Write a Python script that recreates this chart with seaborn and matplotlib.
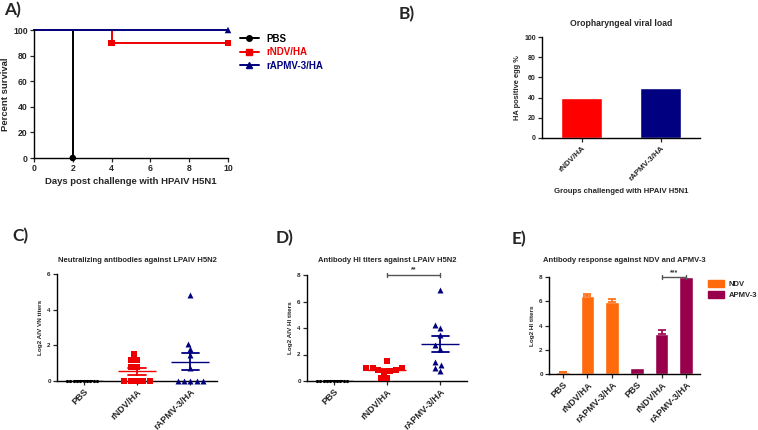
import numpy as np
import pandas as pd
import seaborn as sns
import matplotlib.pyplot as plt
from matplotlib.lines import Line2D
from matplotlib.patches import Patch

# A) survival after HPAIV H5N1 challenge
GROUPS = ["PBS", "rNDV/HA", "rAPMV-3/HA"]
PBS_DAYS = [0, 2]
PBS_SURV = [100, 0]
RNDV_DAYS = [0, 4, 10]
RNDV_SURV = [100, 90, 90]
RAPMV_DAYS = [0, 10]
RAPMV_SURV = [100, 100]
# symbols drawn on the curves
PBS_MARK_DAYS = [2]
PBS_MARK_SURV = [0]
RNDV_MARK_DAYS = [4, 10]
RNDV_MARK_SURV = [90, 90]
RAPMV_MARK_DAYS = [10]
RAPMV_MARK_SURV = [100]

# B) oropharyngeal viral load
VIRAL_GROUPS = ["rNDV/HA", "rAPMV-3/HA"]
VIRAL_LOAD = [40, 50]

# C) VN titers (log2)
VN_PBS = [0, 0, 0, 0, 0, 0, 0, 0, 0, 0]
VN_RNDV = [0, 0, 0, 0, 0, 0.8, 0.8, 1.2, 1.2, 1.5]
VN_RAPMV = [0, 0, 0, 0, 0, 0.75, 1.45, 1.8, 2.1, 4.8]

# D) HI titers against LPAIV H5N2 (log2)
HI_PBS = [0, 0, 0, 0, 0, 0, 0, 0, 0, 0]
HI_RNDV = [0.25, 0.25, 0.65, 0.75, 0.85, 0.85, 1.0, 1.0, 1.0, 1.5]
HI_RAPMV = [0.75, 1.0, 1.2, 1.45, 2.45, 2.7, 3.45, 4.0, 4.25, 6.9]

# E) HI titers against NDV and APMV-3 (mean, SEM)
ANTIGENS = ["NDV", "APMV-3"]
NDV_HI = [0.15, 6.4, 5.9]
NDV_SEM = [0.05, 0.2, 0.3]
APMV_HI = [0.5, 3.3, 8.0]
APMV_SEM = [0.0, 0.3, 0.0]

COLORS = ["#000000", "#EE0000", "#000080"]
MARKERS = ["o", "s", "^"]
E_COLORS = ["#FF6A0D", "#99004C"]


def style_axis(ax, tick_size):
    sns.despine(ax=ax)
    for side in ["left", "bottom"]:
        ax.spines[side].set_linewidth(1.0)
        ax.spines[side].set_color("black")
    ax.tick_params(axis="both", length=3, width=0.9, labelsize=tick_size, pad=1.5)


def survival_panel(ax):
    df = pd.DataFrame({
        "group": ["PBS"] * 2 + ["rNDV/HA"] * 3 + ["rAPMV-3/HA"] * 2,
        "day": PBS_DAYS + RNDV_DAYS + RAPMV_DAYS,
        "surv": PBS_SURV + RNDV_SURV + RAPMV_SURV,
    })
    marks = pd.DataFrame({
        "group": ["PBS"] + ["rNDV/HA"] * 2 + ["rAPMV-3/HA"],
        "day": PBS_MARK_DAYS + RNDV_MARK_DAYS + RAPMV_MARK_DAYS,
        "surv": PBS_MARK_SURV + RNDV_MARK_SURV + RAPMV_MARK_SURV,
    })
    sns.lineplot(data=df, x="day", y="surv", hue="group", hue_order=GROUPS,
                 palette=COLORS, drawstyle="steps-post", linewidth=1.4,
                 estimator=None, legend=False, ax=ax)
    sns.scatterplot(data=marks, x="day", y="surv", hue="group", style="group",
                    hue_order=GROUPS, style_order=GROUPS, palette=COLORS,
                    markers=dict(zip(GROUPS, MARKERS)), s=22, linewidth=0,
                    legend=False, ax=ax, zorder=5)
    for art in ax.lines + ax.collections:
        art.set_clip_on(False)
    ax.set_xlim(0, 10)
    ax.set_ylim(0, 100)
    ax.set_xticks(range(0, 11, 2))
    ax.set_yticks(range(0, 101, 20))
    style_axis(ax, 6.2)
    ax.set_xlabel("Days post challenge with HPAIV H5N1", fontsize=6.8, labelpad=3)
    ax.set_ylabel("Percent survival", fontsize=6.8, labelpad=2)
    handles = [Line2D([], [], color=c, marker=m, markersize=4, linewidth=1.4)
               for c, m in zip(COLORS, MARKERS)]
    ax.legend(handles, GROUPS, loc="upper left", bbox_to_anchor=(1.04, 1.0),
              frameon=False, fontsize=7, labelcolor="linecolor",
              handlelength=2.0, handletextpad=0.7, labelspacing=0.35,
              borderaxespad=0)


def viral_panel(ax):
    sns.barplot(x=VIRAL_GROUPS, y=VIRAL_LOAD, hue=VIRAL_GROUPS,
                palette=["#FF0000", "#000080"], width=0.52, saturation=1,
                legend=False, ax=ax)
    ax.set_ylim(0, 100)
    ax.set_yticks(range(0, 101, 20))
    style_axis(ax, 5)
    ax.tick_params(axis="x", labelsize=5.8)
    plt.setp(ax.get_xticklabels(), rotation=45, ha="right", rotation_mode="anchor")
    ax.set_title("Oropharyngeal viral load", fontsize=6.2, pad=8)
    ax.set_xlabel("Groups challenged with HPAIV H5N1", fontsize=5.6, labelpad=4)
    ax.set_ylabel("HA positive egg %", fontsize=5.4, labelpad=2)


def dot_panel(ax, values, ymax, title, ylabel):
    df = pd.DataFrame({
        "group": np.repeat(GROUPS, [len(v) for v in values]),
        "value": np.concatenate(values),
    })
    sizes = [2.3, 4.3, 4.3]
    for g, c, m, s in zip(GROUPS, COLORS, MARKERS, sizes):
        sns.swarmplot(data=df[df["group"] == g], x="group", y="value",
                      order=GROUPS, color=c, marker=m, size=s, linewidth=0,
                      ax=ax)
    sns.pointplot(data=df, x="group", y="value", hue="group", order=GROUPS,
                  hue_order=GROUPS, palette=COLORS, errorbar="se", capsize=0.32,
                  markers="_", linestyles="none", markersize=28,
                  markeredgewidth=1.0, err_kws={"linewidth": 1.3},
                  legend=False, ax=ax)
    for art in ax.collections:
        art.set_clip_on(False)
    ax.set_xlim(-0.5, 2.5)
    ax.set_ylim(0, ymax)
    ax.set_yticks(range(0, ymax + 1, 2))
    style_axis(ax, 4.5)
    ax.tick_params(axis="x", labelsize=6.6)
    plt.setp(ax.get_xticklabels(), rotation=45, ha="right", rotation_mode="anchor")
    ax.set_title(title, fontsize=5.5, pad=9)
    ax.set_xlabel("")
    ax.set_ylabel(ylabel, fontsize=4.6, labelpad=3)


def bracket(ax, x0, x1, y, text):
    h = y * 0.02
    ax.plot([x0, x1], [y, y], color="#555555", linewidth=1, clip_on=False)
    for x in (x0, x1):
        ax.plot([x, x], [y - h, y + h], color="#555555", linewidth=1, clip_on=False)
    ax.text((x0 + x1) / 2, y + h * 0.6, text, ha="center", va="bottom",
            fontsize=5, color="#333333")


def antibody_panel(ax):
    keys = [f"{a} {g}" for a in ANTIGENS for g in GROUPS]
    means = NDV_HI + APMV_HI
    sems = NDV_SEM + APMV_SEM
    antigen = ["NDV"] * 3 + ["APMV-3"] * 3
    df = pd.DataFrame({"key": keys, "value": means, "antigen": antigen})
    sns.barplot(data=df, x="key", y="value", hue="antigen", order=keys,
                hue_order=ANTIGENS, palette=E_COLORS, dodge=False, width=0.56,
                saturation=1, ax=ax)
    for i, (m, e, a) in enumerate(zip(means, sems, antigen)):
        if e > 0:
            ax.errorbar(i, m, yerr=[[0], [e]], fmt="none",
                        ecolor=E_COLORS[ANTIGENS.index(a)], capsize=3,
                        elinewidth=1.2, capthick=1.2)
    ax.set_ylim(0, 8)
    ax.set_yticks(range(0, 9, 2))
    style_axis(ax, 4.5)
    ax.set_xticks(range(len(keys)))
    ax.set_xticklabels(GROUPS * 2, fontsize=6.6)
    plt.setp(ax.get_xticklabels(), rotation=45, ha="right", rotation_mode="anchor")
    ax.set_title("Antibody response against NDV and APMV-3", fontsize=5.5, pad=11)
    ax.set_xlabel("")
    ax.set_ylabel("Log2 HI titers", fontsize=4.6, labelpad=3)
    handles = [Patch(color=c) for c in E_COLORS]
    ax.legend(handles, ANTIGENS, loc="upper left", bbox_to_anchor=(1.03, 1.0),
              frameon=False, fontsize=5.5, handlelength=2.2, handleheight=1.0,
              handletextpad=0.6, labelspacing=0.4, borderaxespad=0)
    bracket(ax, 4, 5, 8.0, "***")


def main():
    sns.set_style("ticks")
    plt.rcParams["font.family"] = ["Liberation Sans", "DejaVu Sans"]
    plt.rcParams["font.weight"] = "bold"
    plt.rcParams["axes.labelweight"] = "bold"
    plt.rcParams["axes.titleweight"] = "bold"

    W, H = 758, 430
    fig = plt.figure(figsize=(W / 100, H / 100), dpi=100)
    fig.set_facecolor("white")

    def box(x0, y0, x1, y1):
        return [x0 / W, 1 - y1 / H, (x1 - x0) / W, (y1 - y0) / H]

    ax_a = fig.add_axes(box(34, 30, 228, 158))
    ax_b = fig.add_axes(box(542, 37, 700, 138))
    ax_c = fig.add_axes(box(57, 274, 217, 381))
    ax_d = fig.add_axes(box(307, 275, 467, 381))
    ax_e = fig.add_axes(box(549, 277, 700, 374))

    survival_panel(ax_a)
    viral_panel(ax_b)
    dot_panel(ax_c, [VN_PBS, VN_RNDV, VN_RAPMV], 6,
              "Neutralizing antibodies against LPAIV H5N2", "Log2 AIV VN titers")
    dot_panel(ax_d, [HI_PBS, HI_RNDV, HI_RAPMV], 8,
              "Antibody HI titers against LPAIV H5N2", "Log2 AIV HI titers")
    bracket(ax_d, 1, 2, 8.0, "**")
    antibody_panel(ax_e)

    for label, x, y in [("A)", 4, 2), ("B)", 399, 6), ("C)", 12, 228),
                        ("D)", 276, 230), ("E)", 512, 231)]:
        fig.text(x / W, 1 - y / H, label, fontsize=12.5, fontweight="bold",
                 family=["Lato", "DejaVu Sans"], ha="left", va="top")

    fig.savefig("out.png", dpi=100)


if __name__ == "__main__":
    main()
